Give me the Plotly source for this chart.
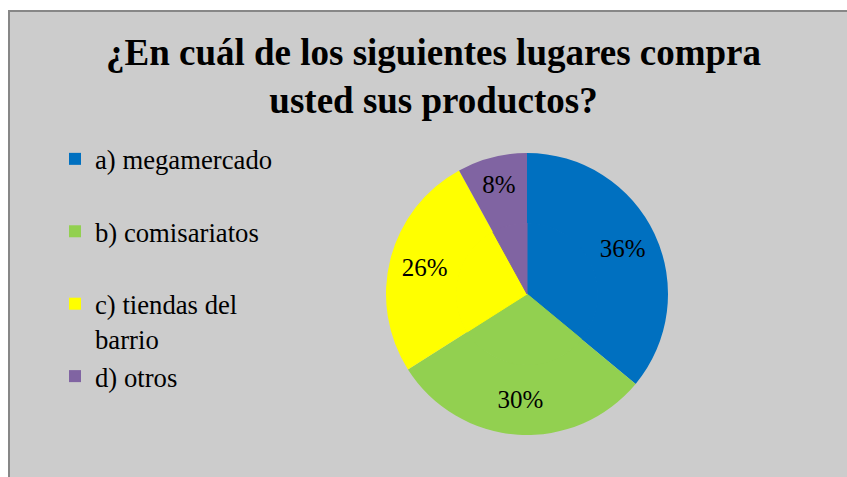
import plotly.graph_objects as go

categories = ["a) megamercado", "b) comisariatos", "c) tiendas del<br>barrio", "d) otros"]
values = [36, 30, 26, 8]
colors = ["#0070C0", "#92D050", "#FFFF00", "#8064A2"]
title_text = "¿En cuál de los siguientes lugares compra<br>usted sus productos?"

W, H = 847, 477
SERIF = "Liberation Serif, Times New Roman, serif"

# pad legend labels so every entry occupies a similar slot height
legend_labels = [c if "<br>" in c else c + "<br>&nbsp;" for c in categories]

# pie placement (pixels of the page)
cx, cy, R = 527, 294, 141
HOLE = 0.5


def domain(radius):
    return dict(
        x=[(cx - radius) / W, (cx + radius) / W],
        y=[1 - (cy + radius) / H, 1 - (cy - radius) / H],
    )


# outer ring carries the percentage labels (positioned like the reference)
outer = go.Pie(
    labels=legend_labels,
    values=values,
    sort=False,
    direction="clockwise",
    rotation=0,
    hole=HOLE,
    marker=dict(colors=colors, line=dict(width=0)),
    textinfo="percent",
    texttemplate="%{percent:.0%}",
    textposition="inside",
    insidetextorientation="horizontal",
    textfont=dict(family=SERIF, size=25, color="black"),
    domain=domain(R),
    hoverinfo="label+percent",
)

# inner disc fills the centre so the pie appears solid
inner = go.Pie(
    labels=legend_labels,
    values=values,
    sort=False,
    direction="clockwise",
    rotation=0,
    marker=dict(colors=colors, line=dict(width=1, color=colors)),
    textinfo="none",
    domain=domain(R * HOLE + 0.5),
    showlegend=False,
    hoverinfo="label+percent",
)

fig = go.Figure([outer, inner])

fig.update_layout(
    width=W,
    height=H,
    margin=dict(l=0, r=0, t=0, b=0),
    paper_bgcolor="white",
    plot_bgcolor="white",
    font=dict(family=SERIF, color="black"),
    title=dict(
        text=title_text,
        font=dict(family=SERIF, size=37, color="black", weight="bold"),
        x=433.5 / W,
        xanchor="center",
        xref="container",
        y=1 - 65 / H,
        yanchor="middle",
        yref="container",
    ),
    legend=dict(
        x=55 / W,
        xanchor="left",
        y=1 - 135 / H,
        yanchor="top",
        bgcolor="rgba(0,0,0,0)",
        font=dict(family=SERIF, size=26.7, color="black"),
        valign="top",
        traceorder="normal",
    ),
    showlegend=True,
    shapes=[
        dict(
            type="rect",
            xref="paper",
            yref="paper",
            x0=9 / W,
            x1=1.05,
            y0=-0.05,
            y1=1 - 11 / H,
            line=dict(color="#878787", width=2),
            fillcolor="#CCCCCC",
            layer="below",
        )
    ],
)

fig.write_html("out.html")
